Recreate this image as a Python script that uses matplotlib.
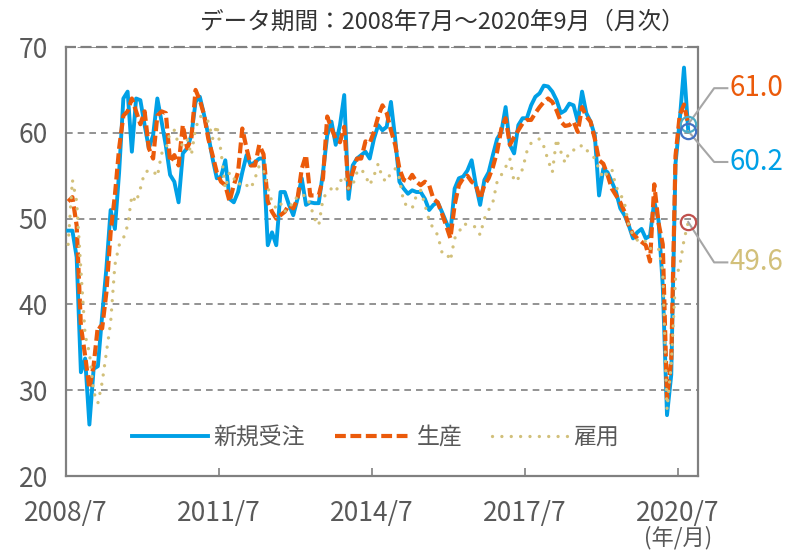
import matplotlib
matplotlib.use("Agg")
import matplotlib.pyplot as plt
import matplotlib.transforms as mtransforms

plt.rcParams['font.family'] = ['Noto Sans CJK JP', 'DejaVu Sans']

# ISM指数（2008/7 ～ 2020/9, 月次）
new_orders = [
    48.6, 48.6, 45.5, 32.1, 33.7, 26.0, 32.5, 32.8, 38.7, 44.2, 51.0, 48.8,
    55.4, 64.0, 64.8, 57.8, 64.0, 63.8, 60.9, 58.2, 59.7, 64.0, 61.3, 58.5,
    55.1, 54.3, 51.9, 57.6, 58.2, 59.7, 63.6, 64.2, 62.1, 59.7, 57.0, 54.7,
    54.9, 56.8, 52.3, 51.9, 53.1, 55.4, 57.4, 56.2, 56.6, 57.0, 57.0, 46.9,
    48.4, 46.9, 53.1, 53.1, 51.6, 50.4, 52.3, 54.7, 51.6, 51.9, 51.8, 51.8,
    55.4, 59.7, 61.3, 58.6, 60.9, 64.4, 52.3, 56.2, 57.0, 57.4, 57.8, 57.0,
    59.3, 60.9, 60.3, 60.7, 63.6, 59.3, 54.3, 53.5, 52.9, 53.3, 53.1, 53.1,
    52.3, 51.0, 51.6, 51.9, 50.8, 49.6, 48.4, 53.5, 54.7, 54.9, 55.6, 56.8,
    53.9, 51.6, 54.5, 55.4, 57.4, 59.3, 60.1, 63.0, 58.6, 57.6, 60.9, 61.7,
    61.7, 63.2, 64.2, 64.6, 65.5, 65.4, 64.8, 63.8, 62.3, 62.6, 63.4, 63.2,
    61.3, 64.8, 62.3, 61.3, 59.7, 52.7, 55.8, 55.4, 54.3, 53.1, 51.2, 50.4,
    49.2, 47.7, 48.4, 48.8, 47.7, 48.0, 52.0, 49.8, 42.2, 27.1, 31.8, 56.4,
    61.5, 67.6, 60.2,
]
production = [
    52.0, 52.5, 49.2, 37.5, 34.0, 30.2, 32.9, 37.5, 37.2, 41.4, 48.4, 52.7,
    58.2, 62.0, 62.5, 64.0, 62.5, 61.0, 62.5, 58.2, 57.0, 62.0, 62.5, 62.3,
    56.6, 57.4, 56.2, 60.9, 58.2, 59.3, 65.0, 63.8, 62.1, 59.3, 57.4, 55.4,
    54.3, 53.9, 52.0, 53.9, 55.4, 60.5, 58.2, 56.2, 56.2, 58.6, 57.5, 52.0,
    50.8, 50.0, 50.4, 50.8, 51.6, 51.2, 52.3, 55.8, 57.4, 52.7, 52.7, 52.7,
    54.7, 61.9, 60.5, 59.3, 58.9, 60.7, 53.5, 55.4, 57.0, 57.0, 59.0, 58.8,
    60.1, 61.9, 63.2, 62.3, 60.3, 58.6, 55.8, 54.5, 54.3, 55.1, 54.3, 53.9,
    54.3, 53.9, 52.3, 51.9, 50.6, 49.2, 47.7, 51.6, 53.9, 54.7, 55.0, 54.3,
    53.9, 52.3, 53.9, 54.7, 56.0, 57.8, 60.5, 61.7, 58.6, 59.5, 60.3, 61.1,
    61.5, 61.5, 62.3, 63.0, 63.6, 64.0, 63.6, 62.6, 61.3, 60.8, 60.9, 61.3,
    60.1, 63.0, 61.9, 61.3, 59.3, 56.8, 56.4, 55.1, 53.5, 52.7, 51.9, 50.8,
    49.2, 48.2, 47.7, 47.3, 46.9, 45.0, 54.0, 49.5, 47.0, 29.0, 33.5, 57.3,
    62.1, 63.3, 61.0,
]
employment = [
    47.0, 54.5, 52.0, 44.0, 36.4, 34.4, 29.8, 28.5, 30.9, 34.4, 37.9, 44.6,
    46.9, 47.7, 49.2, 52.7, 51.9, 53.5, 55.4, 55.6, 55.6, 54.9, 57.6, 58.0,
    60.1, 60.3, 58.6, 58.6, 59.3, 57.4, 60.5, 61.9, 61.9, 61.3, 59.3, 60.9,
    57.8, 53.5, 55.4, 54.7, 53.9, 54.3, 53.9, 53.5, 54.7, 56.2, 55.6, 53.7,
    51.9, 51.2, 51.8, 50.8, 51.6, 51.6, 52.7, 52.7, 52.7, 51.6, 50.0, 49.2,
    52.3, 53.1, 53.5, 53.1, 54.3, 55.0, 53.5, 53.9, 55.4, 55.8, 55.0, 53.9,
    55.0, 56.4, 54.7, 54.3, 55.4, 55.8, 54.7, 51.9, 51.4, 51.2, 52.7, 53.3,
    51.6, 49.8, 48.8, 48.1, 46.1, 46.1, 45.1, 47.7, 48.4, 49.4, 49.3, 49.2,
    49.0, 48.1, 50.0, 51.0, 51.9, 54.3, 55.1, 56.0, 57.0, 54.3, 54.7, 55.8,
    57.8, 58.8, 59.1, 59.3, 58.4, 56.8, 55.4, 59.3, 57.8, 56.5, 57.8, 58.0,
    58.0, 58.6, 58.0, 57.6, 57.0, 55.8, 54.7, 55.4, 55.8, 53.7, 52.9, 51.8,
    49.2, 48.1, 47.5, 47.7, 47.3, 46.5, 46.7, 46.5, 43.8, 27.8, 33.0, 43.0,
    44.5, 47.5, 49.6,
]
series_names = ["新規受注", "生産", "雇用"]
tick_months = [0, 36, 72, 108, 144]
tick_labels = ["2008/7", "2011/7", "2014/7", "2017/7", "2020/7"]
y_ticks = [20, 30, 40, 50, 60, 70]

BLUE = "#00A0E6"
ORANGE = "#EB5A0A"
KHAKI = "#D2C07A"
GRAY = "#808080"
TXT = "#595959"

months = list(range(len(new_orders)))

fig = plt.figure(figsize=(7.88, 5.51), dpi=100)
ax = fig.add_axes([0.0838, 0.136, 0.802, 0.7787])

ax.plot(months, new_orders, color=BLUE, lw=2.8, label=series_names[0], zorder=3)
ax.plot(months, production, color=ORANGE, lw=3.0, ls=(0, (2.6, 1.1)),
        label=series_names[1], zorder=4)
ax.plot(months, employment, color=KHAKI, lw=2.4, ls=(0, (0.01, 2.8)),
        dash_capstyle="round", label=series_names[2], zorder=5)

ax.set_xlim(-0.5, 148.3)
ax.set_ylim(20, 70)
ax.set_yticks(y_ticks)
ax.set_yticklabels([str(v) for v in y_ticks])
for v in y_ticks[1:]:
    ax.axhline(v, color=GRAY, lw=1.2, ls=(0, (4, 3)), zorder=1)

ax.set_xticks([m - 0.5 for m in tick_months])
ax.set_xticklabels(tick_labels)
ax.tick_params(axis="x", direction="in", length=6, width=1.2, color=GRAY,
               pad=17, labelsize=19, labelcolor=TXT)
ax.tick_params(axis="y", length=0, pad=13, labelsize=19, labelcolor=TXT)
for name, sp in ax.spines.items():
    sp.set_color(GRAY)
    sp.set_linewidth(1.6)
ax.spines["top"].set_linestyle((0, (4, 3)))

trans = mtransforms.blended_transform_factory(ax.transData, ax.transAxes)
ax.text(143.5, -0.143, "(年/月)", transform=trans, ha="center", va="center",
        fontsize=16, color=TXT)

leg = ax.legend(loc="center", bbox_to_anchor=(0.49, 0.09), ncol=3, frameon=False,
                fontsize=16.5, handlelength=3.3, handletextpad=0.25,
                columnspacing=1.3)
for t in leg.get_texts():
    t.set_color(TXT)

# 直近値の注記
last = len(new_orders) - 1
marks = [
    (production[last], "#4BACC6", 65.2, f"{production[last]:.1f}", ORANGE),
    (new_orders[last], "#4472C4", 56.6, f"{new_orders[last]:.1f}", BLUE),
    (employment[last], "#C0504D", 44.9, f"{employment[last]:.1f}", KHAKI),
]
for val, ccol, ly, label, tcol in marks:
    ax.plot([last, 152.1, 155.2], [val, ly, ly], color="#A6A6A6", lw=1.5,
            clip_on=False, zorder=6)
    ax.plot(last, val, "o", ms=11, mfc="none", mec=ccol, mew=1.6,
            clip_on=False, zorder=7)
    ax.text(155.8, ly, label, ha="left", va="center", fontsize=20,
            color=tcol, clip_on=False)

fig.text(0.561, 0.96, "データ期間：2008年7月～2020年9月（月次）", ha="center",
         va="center", fontsize=17, color="#333333")

fig.savefig("out.png", dpi=100)
